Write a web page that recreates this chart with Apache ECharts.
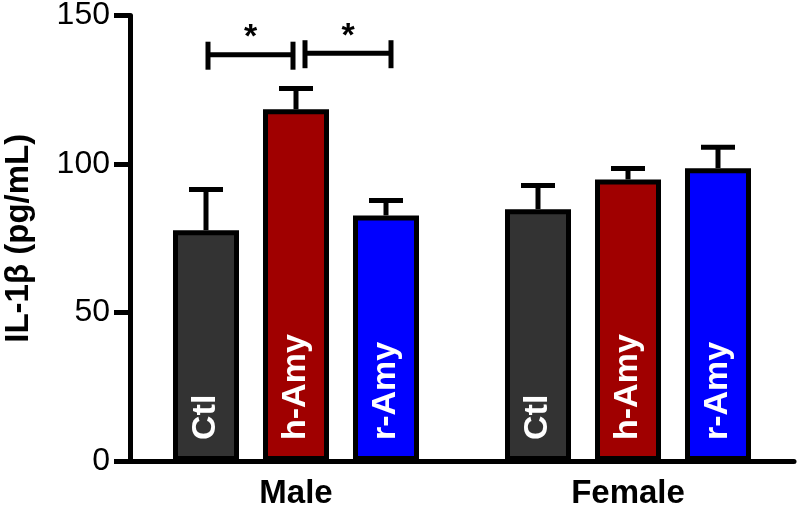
<!DOCTYPE html>
<html>
<head>
<meta charset="utf-8">
<script src="https://cdn.jsdelivr.net/npm/echarts@6/dist/echarts.min.js"></script>
<style>html,body{margin:0;padding:0;background:#fff}#c{width:800px;height:506px}</style>
</head>
<body>
<div id="c"></div>
<script>
// ---- data ----
var categories = ['Male', 'Female'];
var groupNames = ['Ctl', 'h-Amy', 'r-Amy'];
var ctlMean = [77.7, 84.8];
var hAmyMean = [118.4, 94.8];
var rAmyMean = [82.7, 98.6];
var ctlSem = [13.7, 8.0];
var hAmySem = [7.0, 3.7];
var rAmySem = [5.0, 7.0];
var yTicks = [0, 50, 100, 150];
// significance brackets: [categoryIndex, fromGroup, toGroup, value]
var sigBrackets = [[0, 0, 1, 136.8], [0, 1, 2, 137.3]];
var sigLabels = ['*', '*'];

// ---- style ----
var FONT = '"Liberation Sans", Arial, sans-serif';
var colors = ['#333333', '#a00000', '#0000ff'];
var BAR_W = 66, BAR_SPACING = 90, BORDER = 5;
var means = [ctlMean, hAmyMean, rAmyMean];
var sems = [ctlSem, hAmySem, rAmySem];

function groupOffset(i) { return (i - 1) * BAR_SPACING; }

var series = [];
groupNames.forEach(function (g, i) {
  series.push({
    type: 'bar', name: g,
    data: means[i],
    barWidth: BAR_W, barGap: ((BAR_SPACING / BAR_W - 1) * 100) + '%',
    itemStyle: { color: colors[i], borderColor: '#000', borderWidth: BORDER },
    label: {
      show: true, formatter: g, position: 'insideBottom', rotate: 90,
      align: 'left', verticalAlign: 'middle', distance: 21,
      color: '#fff', fontFamily: FONT, fontWeight: 'bold', fontSize: 34
    },
    z: 3
  });
});

// error bars
groupNames.forEach(function (g, i) {
  series.push({
    type: 'custom', name: g + ' err',
    data: means[i].map(function (m, k) { return [k, m, m + sems[i][k]]; }),
    z: 2,
    renderItem: function (params, api) {
      var base = api.coord([api.value(0), api.value(1)]);
      var top = api.coord([api.value(0), api.value(2)]);
      var x = base[0] + groupOffset(i);
      var capHalf = 17;
      return {
        type: 'group',
        children: [
          { type: 'line', shape: { x1: x, y1: base[1], x2: x, y2: top[1] }, style: { stroke: '#000', lineWidth: 5 } },
          { type: 'line', shape: { x1: x - capHalf, y1: top[1], x2: x + capHalf, y2: top[1] }, style: { stroke: '#000', lineWidth: 5 } }
        ]
      };
    }
  });
});

// significance brackets
series.push({
  type: 'custom', name: 'sig',
  data: sigBrackets,
  z: 4,
  renderItem: function (params, api) {
    var p = api.coord([api.value(0), api.value(3)]);
    var f = api.value(1), t = api.value(2);
    var x1 = p[0] + groupOffset(f) + (f === 0 ? 2 : 9);
    var x2 = p[0] + groupOffset(t) + (t === 1 ? -3 : 5);
    var y = p[1];
    return {
      type: 'group',
      children: [
        { type: 'line', shape: { x1: x1, y1: y, x2: x2, y2: y }, style: { stroke: '#000', lineWidth: 5 } },
        { type: 'line', shape: { x1: x1, y1: y - 13, x2: x1, y2: y + 15 }, style: { stroke: '#000', lineWidth: 5 } },
        { type: 'line', shape: { x1: x2, y1: y - 13, x2: x2, y2: y + 15 }, style: { stroke: '#000', lineWidth: 5 } },
        { type: 'text', style: { text: sigLabels[params.dataIndex], x: (x1 + x2) / 2, y: y - 17, align: 'center', verticalAlign: 'middle', fontFamily: FONT, fontWeight: 'bold', fontSize: 34, fill: '#000' } }
      ]
    };
  }
});

var chart = echarts.init(document.getElementById('c'), null, { renderer: 'canvas' });
chart.setOption({
  animation: false,
  backgroundColor: '#fff',
  grid: { left: 130, right: 6, top: 15.5, bottom: 45, containLabel: false, outerBoundsMode: 'none' },
  xAxis: {
    type: 'category', data: categories, boundaryGap: true,
    axisLine: { lineStyle: { color: '#000', width: 5 } },
    axisTick: { alignWithLabel: true, length: 14, lineStyle: { color: '#000', width: 5 } },
    axisLabel: { color: '#000', fontFamily: FONT, fontWeight: 'bold', fontSize: 33, margin: 16 }
  },
  yAxis: {
    type: 'value', min: yTicks[0], max: yTicks[yTicks.length - 1], interval: 50,
    name: 'IL-1β (pg/mL)', nameLocation: 'middle', nameGap: 95, nameRotate: 90,
    nameTextStyle: { color: '#000', fontFamily: FONT, fontWeight: 'bold', fontSize: 33 },
    axisLine: { show: true, lineStyle: { color: '#000', width: 5 } },
    axisTick: { show: true, length: 16, lineStyle: { color: '#000', width: 5 } },
    axisLabel: { color: '#000', fontFamily: FONT, fontSize: 32, margin: 20 },
    splitLine: { show: false }
  },
  series: series
});
</script>
</body>
</html>
